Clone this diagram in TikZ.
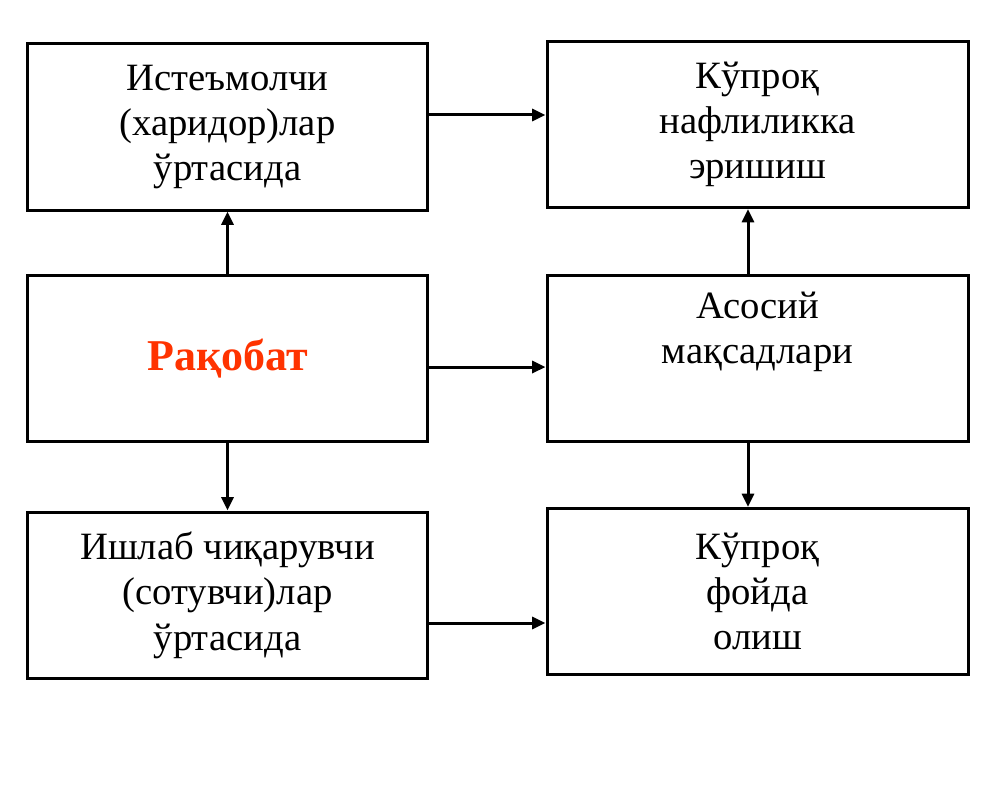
\documentclass[tikz,border=0pt]{standalone}
\usepackage{fontspec}
\setmainfont{Liberation Serif}
\usetikzlibrary{arrows.meta}
\definecolor{rakred}{RGB}{255,51,0}

\begin{document}
\begin{tikzpicture}[x=0.75pt,y=-0.75pt,
  box/.style={draw=black,line width=2.25pt,align=center,inner sep=0pt,
    minimum height=124.5pt,font=\fontsize{29}{34}\selectfont},
  lbox/.style={box,minimum width=300.5pt},
  rbox/.style={box,minimum width=315.75pt},
  arr/.style={line width=2.25pt,-{Triangle[length=10pt,width=9pt]}}]
\useasboundingbox (0,0) rectangle (1000,792);

% left column
\node[lbox] (ist) at (227.5,127) {Истеъмолчи\\(харидор)лар\\ўртасида};
\node[lbox] (rak) at (227.5,358.5) {\fontsize{33}{34}\selectfont\bfseries\color{rakred}Рақобат};
\node[lbox] (ish) at (227.5,595) {Ишлаб чиқарувчи\\(сотувчи)лар\\ўртасида};

% right column
\node[rbox] (naf) at (757.5,124.5) {Кўпроқ\\нафлиликка\\эришиш};
\node[rbox] (maq) at (757.5,358.5) {Асосий\\мақсадлари\\[12pt]~};
\node[rbox] (foy) at (757.5,591.5) {Кўпроқ\\фойда\\олиш};

\coordinate (rx) at (748,0);
\coordinate (h1) at ([yshift=9pt]ist.east);
\coordinate (h2) at ([yshift=-6.4pt]rak.east);
\coordinate (h3) at ([yshift=-21pt]ish.east);

\draw[arr] (rak) -- (ist);
\draw[arr] (rak) -- (ish);
\draw[arr] (h1) -- (h1 -| naf.west);
\draw[arr] (h2) -- (h2 -| maq.west);
\draw[arr] (h3) -- (h3 -| foy.west);
\draw[arr] (maq.north -| rx) -- (naf.south -| rx);
\draw[arr] (maq.south -| rx) -- (foy.north -| rx);

\end{tikzpicture}
\end{document}
